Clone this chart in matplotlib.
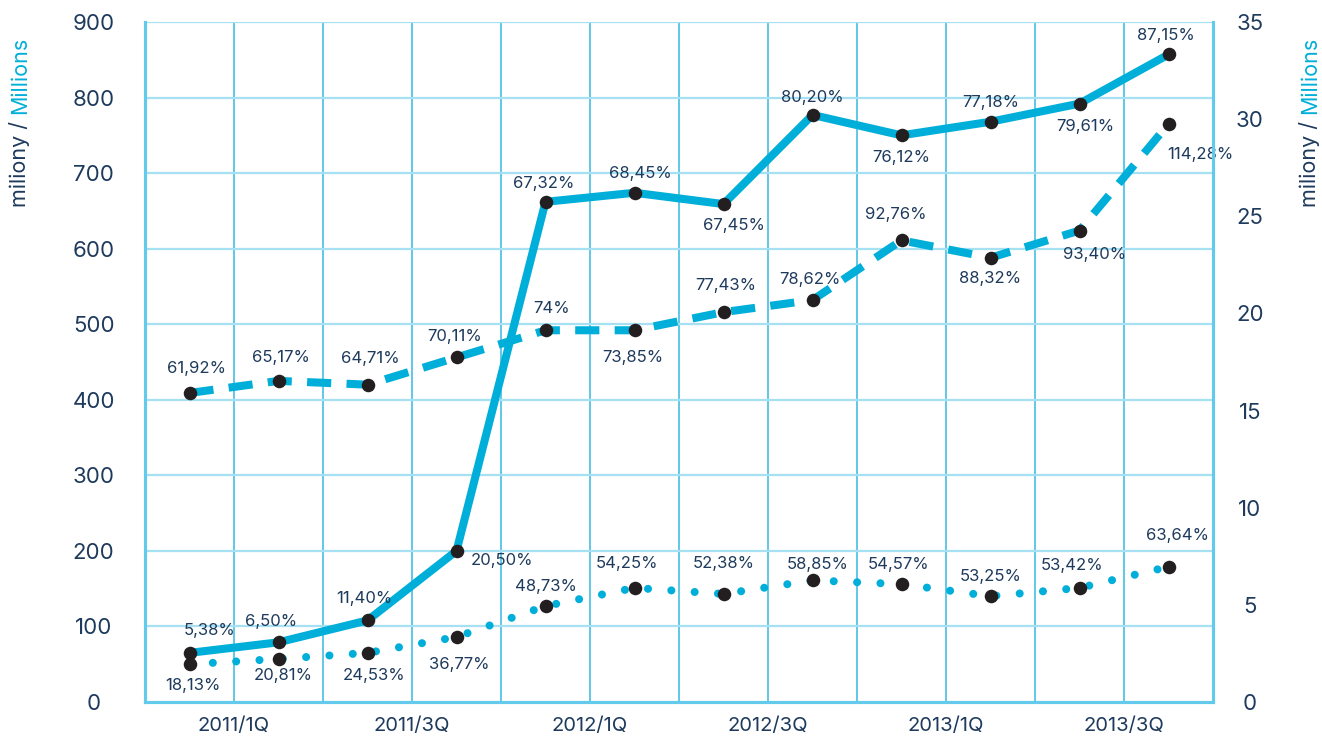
import matplotlib
matplotlib.use("Agg")
import matplotlib.pyplot as plt
import numpy as np

plt.rcParams['font.family'] = ['Inter', 'DejaVu Sans']

quarters = ['2011/1Q', '2011/2Q', '2011/3Q', '2011/4Q', '2012/1Q', '2012/2Q',
            '2012/3Q', '2012/4Q', '2013/1Q', '2013/2Q', '2013/3Q', '2013/4Q']
tick_labels = ['2011/1Q', '2011/3Q', '2012/1Q', '2012/3Q', '2013/1Q', '2013/3Q']

solid_vals = [65, 79, 108, 200, 662, 674, 659, 777, 750, 768, 792, 857]
solid_pct = ['5,38%', '6,50%', '11,40%', '20,50%', '67,32%', '68,45%', '67,45%',
             '80,20%', '76,12%', '77,18%', '79,61%', '87,15%']

dashed_vals = [409, 425, 420, 456, 492, 492, 516, 532, 611, 588, 624, 765]
dashed_pct = ['61,92%', '65,17%', '64,71%', '70,11%', '74%', '73,85%', '77,43%',
              '78,62%', '92,76%', '88,32%', '93,40%', '114,28%']

dotted_vals = [50, 57, 65, 86, 127, 151, 143, 161, 156, 140, 151, 179]
dotted_pct = ['18,13%', '20,81%', '24,53%', '36,77%', '48,73%', '54,25%', '52,38%',
              '58,85%', '54,57%', '53,25%', '53,42%', '63,64%']

# label offsets (pixels: dx right, dy down) relative to each point
solid_off = [(20, -22), (-7, -21), (-3, -22), (45, 10), (-2, -18), (6, -19),
             (10, 21), (0, -17), (0, 22), (0, -19), (6, 23), (-3, -19)]
dashed_off = [(7, -24), (2, -23), (3, -26), (-2, -21), (6, -22), (-2, 27),
              (2, -27), (-3, -21), (-6, -26), (0, 21), (15, 24), (32, 31)]
dotted_off = [(3, 21), (5, 17), (7, 23), (3, 27), (0, -20), (-8, -24),
              (0, -30), (5, -16), (-3, -20), (0, -20), (-7, -22), (9, -31)]

BLUE = '#00AFD9'
NAVY = '#1E3A5C'
DOT = '#231F20'
VGRID = '#36B9E2'
HGRID = '#A6E0F3'
SPINE = '#62CAEB'

W, H = 1322, 738
fig = plt.figure(figsize=(W / 100, H / 100), dpi=100)
ax = fig.add_axes([145 / W, 36 / H, 1068 / W, 680 / H])
ax2 = ax.twinx()

x = np.arange(len(quarters))

ax.set_xlim(-0.5, 11.5)
ax.set_ylim(0, 900)
ax2.set_ylim(0, 35)

# grid
for gx in np.arange(-0.5, 12.0, 1.0):
    ax.axvline(gx, color=VGRID, lw=1.1, zorder=0.5)
for gy in range(100, 1000, 100):
    ax.axhline(gy, color=HGRID, lw=1.6, zorder=0.5)

for a in (ax, ax2):
    for side in ['left', 'right', 'bottom']:
        a.spines[side].set_color(SPINE)
        a.spines[side].set_linewidth(2.2)
    a.spines['top'].set_visible(False)

# lines
ax.plot(x, solid_vals, color=BLUE, lw=5.8, solid_joinstyle='miter', zorder=3)
ax.plot(x, dashed_vals, color=BLUE, lw=5.8, linestyle=(0, (3.0, 1.9)),
        dash_capstyle='butt', zorder=3)
ax.plot(x, dotted_vals, color=BLUE, lw=5.8, linestyle=(0, (0.001, 2.9)),
        dash_capstyle='round', zorder=3)

for vals in (solid_vals, dashed_vals, dotted_vals):
    ax.scatter(x, vals, s=95, color=DOT, zorder=5, linewidths=0)

for vals, pcts, offs in ((solid_vals, solid_pct, solid_off),
                         (dashed_vals, dashed_pct, dashed_off),
                         (dotted_vals, dotted_pct, dotted_off)):
    for xi, v, p, (dx, dy) in zip(x, vals, pcts, offs):
        ax.annotate(p, (xi, v), xytext=(dx, -dy), textcoords='offset pixels',
                    ha='center', va='center', fontsize=12, color=NAVY, zorder=6)

# ticks
ax.set_yticks(range(0, 1000, 100))
ax2.set_yticks(range(0, 40, 5))
ax.set_xticks(np.arange(0.5, 11, 2.0))
ax.set_xticklabels(tick_labels)
ax.tick_params(axis='y', length=0, pad=37, labelsize=16, labelcolor=NAVY)
ax2.tick_params(axis='y', length=0, pad=26.5, labelsize=16, labelcolor=NAVY)
ax.tick_params(axis='x', length=0, pad=11, labelsize=14.5, labelcolor=NAVY)
for lab in ax.get_yticklabels():
    lab.set_ha('center')
for lab in ax2.get_yticklabels():
    lab.set_ha('center')

# axis titles (two-colour, rotated)
fig.canvas.draw()
renderer = fig.canvas.get_renderer()
for xpix in (20, 1310):
    t1 = fig.text(xpix / W, 1 - 207 / H, 'miliony /', rotation=90, ha='center',
                  va='bottom', fontsize=15.5, color=NAVY)
    bb = t1.get_window_extent(renderer=renderer)
    fig.text(xpix / W, (bb.y1 + 7) / H, 'Millions', rotation=90, ha='center',
             va='bottom', fontsize=15.5, color=BLUE)

fig.savefig('out.png', dpi=100)
